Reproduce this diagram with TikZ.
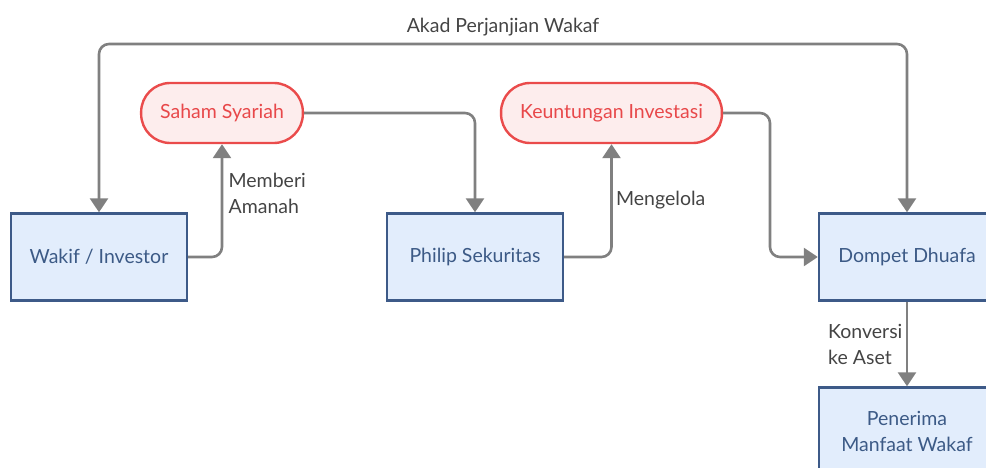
\documentclass[tikz,border=0pt]{standalone}
\usepackage{fontspec}
\setmainfont{Lato}
\usetikzlibrary{arrows.meta}

\definecolor{boxfill}{HTML}{E2EDFC}
\definecolor{boxline}{HTML}{3D5A88}
\definecolor{boxtext}{HTML}{3C5A86}
\definecolor{pillfill}{HTML}{FDEDED}
\definecolor{pillline}{HTML}{EA4B4B}
\definecolor{pilltext}{HTML}{E8484A}
\definecolor{edgegray}{HTML}{808080}
\definecolor{labeltext}{HTML}{444444}

\begin{document}
\begin{tikzpicture}[x=1bp, y=-1bp,
    >={Triangle[length=14bp,width=18bp]},
    every node/.style={font=\fontsize{19.5bp}{26bp}\selectfont},
    party/.style={rectangle, draw=boxline, fill=boxfill, text=boxtext, line width=2.4bp,
        minimum width=176bp, minimum height=87bp, align=center},
    asset/.style={rectangle, rounded corners=29bp, draw=pillline, fill=pillfill, text=pilltext,
        line width=2.4bp, minimum height=60bp, inner xsep=19bp},
    flow/.style={draw=edgegray, line width=2.6bp, rounded corners=10bp},
    note/.style={text=labeltext, align=left}]
    \useasboundingbox (0,0) rectangle (986,468);

    \node[party] (wakif) at (99,257) {Wakif / Investor};
    \node[party] (philip) at (475,257) {Philip Sekuritas};
    \node[party] (dompet) at (907,257) {Dompet Dhuafa};
    \node[party] (penerima) at (907,431) {Penerima\\Manfaat Wakaf};
    \node[asset] (saham) at (222,113) {Saham Syariah};
    \node[asset] (untung) at (611.5,113) {Keuntungan Investasi};

    \coordinate (akad) at (503,44);
    \coordinate (belok) at (770,257);

    \draw[flow,<->] (wakif.north) |- (akad) -| (dompet.north);
    \node[note, anchor=base] at (503,33) {Akad Perjanjian Wakaf};
    \draw[flow,->] (wakif.east) -| node[note, pos=0.78, right, xshift=2bp] {Memberi\\Amanah} (saham.south);
    \draw[flow,->] (saham.east) -| (philip.north);
    \draw[flow,->] (philip.east) -| node[note, pos=0.75, right] {Mengelola} (untung.south);
    \draw[flow,->] (untung.east) -| (belok) -- (dompet.west);
    \draw[flow,->] (dompet.south) -- node[note, left] {Konversi\\ke Aset} (penerima.north);
\end{tikzpicture}
\end{document}
